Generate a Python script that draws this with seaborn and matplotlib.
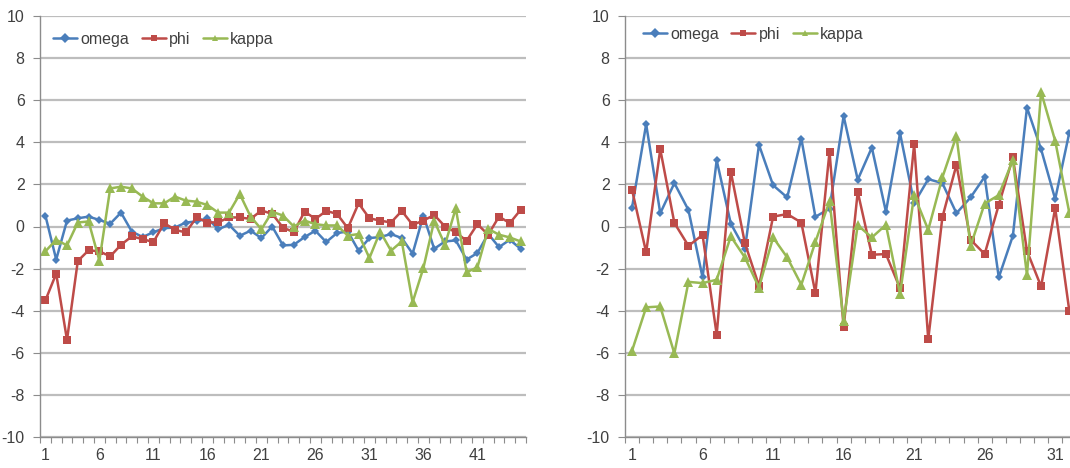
import numpy as np
import pandas as pd
import matplotlib
matplotlib.use("Agg")
import matplotlib.pyplot as plt
from matplotlib import font_manager
from matplotlib.ticker import FixedLocator
import seaborn as sns

# Rotation angles per frame, first run (45 frames)
left_omega = [0.52, -1.57, 0.28, 0.39, 0.47, 0.31, 0.13, 0.66, -0.24, -0.50,
              -0.27, -0.08, -0.05, 0.19, 0.24, 0.39, -0.13, 0.08, -0.44, -0.20,
              -0.55, 0.00, -0.90, -0.87, -0.50, -0.20, -0.74, -0.31, -0.24, -1.15,
              -0.55, -0.50, -0.36, -0.55, -1.29, 0.52, -1.06, -0.71, -0.66, -1.57,
              -1.26, -0.35, -0.98, -0.63, -1.06]
left_phi = [-3.51, -2.24, -5.39, -1.64, -1.13, -1.18, -1.42, -0.87, -0.47, -0.60,
            -0.74, 0.16, -0.16, -0.28, 0.43, 0.19, 0.20, 0.43, 0.43, 0.36,
            0.76, 0.60, -0.05, -0.27, 0.71, 0.36, 0.74, 0.60, -0.08, 1.10,
            0.39, 0.28, 0.19, 0.74, 0.08, 0.28, 0.55, 0.00, -0.28, -0.68,
            0.11, -0.39, 0.47, 0.16, 0.79]
left_kappa = [-1.18, -0.63, -0.90, 0.19, 0.24, -1.62, 1.81, 1.89, 1.81, 1.42,
              1.10, 1.10, 1.42, 1.23, 1.18, 1.02, 0.66, 0.66, 1.54, 0.47,
              -0.13, 0.70, 0.52, 0.00, 0.28, 0.11, 0.05, 0.05, -0.43, -0.36,
              -1.50, -0.24, -1.15, -0.71, -3.60, -1.97, 0.27, -0.87, 0.87, -2.17,
              -1.94, -0.11, -0.39, -0.52, -0.71]

# Rotation angles per frame, second run (32 frames)
right_omega = [0.90, 4.86, 0.63, 2.06, 0.78, -2.42, 3.15, 0.14, -1.08, 3.88,
               1.96, 1.38, 4.18, 0.46, 0.85, 5.25, 2.22, 3.75, 0.70, 4.43,
               1.11, 2.25, 2.06, 0.63, 1.38, 2.36, -2.42, -0.44, 5.65, 3.67,
               1.30, 4.46]
right_phi = [1.74, -1.23, 3.67, 0.17, -0.92, -0.40, -5.14, 2.61, -0.79, -2.82,
             0.47, 0.59, 0.19, -3.16, 3.56, -4.79, 1.65, -1.34, -1.31, -2.94,
             3.91, -5.36, 0.43, 2.93, -0.63, -1.31, 1.03, 3.28, -1.16, -2.85,
             0.87, -4.00]
right_kappa = [-5.90, -3.84, -3.80, -6.03, -2.63, -2.69, -2.53, -0.47, -1.47, -2.90,
               -0.52, -1.47, -2.77, -0.73, 1.20, -4.48, 0.06, -0.52, 0.08, -3.21,
               1.49, -0.16, 2.33, 4.30, -0.92, 1.09, 1.49, 3.16, -2.31, 6.39,
               4.07, 0.66]

series_names = ["omega", "phi", "kappa"]
palette = {"omega": "#4A7EBB", "phi": "#BE4B48", "kappa": "#98B954"}
markers = {"omega": "D", "phi": "s", "kappa": "^"}
marker_sizes = {"omega": 4.5, "phi": 6, "kappa": 6.5}


def long_frame(omega, phi, kappa):
    frames = []
    for name, vals in zip(series_names, (omega, phi, kappa)):
        frames.append(pd.DataFrame({"frame": np.arange(1, len(vals) + 1),
                                    "angle": vals, "series": name}))
    return pd.concat(frames, ignore_index=True)


sns.set_theme(style="white")
installed = {f.name for f in font_manager.fontManager.ttflist}
families = [f for f in ["Liberation Sans Narrow", "Liberation Sans"] if f in installed]
plt.rcParams["font.family"] = families + ["DejaVu Sans"]
plt.rcParams["axes.unicode_minus"] = False

fig = plt.figure(figsize=(10.7, 4.68), dpi=100)
ax_l = fig.add_axes([40 / 1070, 31 / 468, 486 / 1070, 421 / 468])
ax_r = fig.add_axes([625 / 1070, 31 / 468, 445 / 1070, 421 / 468])

panels = [
    (ax_l, long_frame(left_omega, left_phi, left_kappa), 45, 45.5,
     (0.027, 0.962)),
    (ax_r, long_frame(right_omega, right_phi, right_kappa), 32, 32.05,
     (0.040, 0.974)),
]

text_color = "#404040"
grid_color = "#BDBDBD"
font_size = 11.5

for ax, df, n, xmax, legend_anchor in panels:
    sns.lineplot(data=df, x="frame", y="angle", hue="series", style="series",
                 hue_order=series_names, style_order=series_names,
                 palette=palette, markers=markers, dashes=False,
                 linewidth=1.8, markeredgewidth=0, ax=ax)
    for line, name in zip(ax.get_lines()[:3], series_names):
        line.set_markersize(marker_sizes[name])

    ax.set_ylim(-10, 10)
    ax.set_xlim(0.5, xmax)
    ax.set_yticks(np.arange(-10, 11, 2))
    ax.yaxis.grid(True, color=grid_color, linewidth=1.6)
    ax.xaxis.grid(False)
    ax.set_axisbelow(True)

    ax.set_xticks(np.arange(1, n + 1, 5))
    ax.xaxis.set_minor_locator(FixedLocator(np.arange(0.5, n + 1, 1)))
    ax.tick_params(axis="x", which="major", length=0, pad=8,
                   labelsize=font_size, labelcolor=text_color)
    ax.tick_params(axis="x", which="minor", length=4, width=0.8,
                   color="#8C8C8C", direction="out", bottom=True)
    ax.tick_params(axis="y", which="major", length=5, width=0.8,
                   color="#8C8C8C", direction="out", left=True,
                   labelsize=font_size, labelcolor=text_color, pad=6)

    for side in ("top", "right"):
        ax.spines[side].set_visible(False)
    for side in ("left", "bottom"):
        ax.spines[side].set_color("#8C8C8C")
        ax.spines[side].set_linewidth(1.0)

    ax.set_xlabel("")
    ax.set_ylabel("")

    leg = ax.legend(loc="upper left", bbox_to_anchor=legend_anchor, ncol=3,
                    frameon=False, fontsize=font_size, handlelength=1.5,
                    handletextpad=0.2, columnspacing=0.8, borderaxespad=0,
                    borderpad=0, markerscale=0.8)
    for txt in leg.get_texts():
        txt.set_color(text_color)

fig.savefig("out.png", dpi=100, facecolor="white")
